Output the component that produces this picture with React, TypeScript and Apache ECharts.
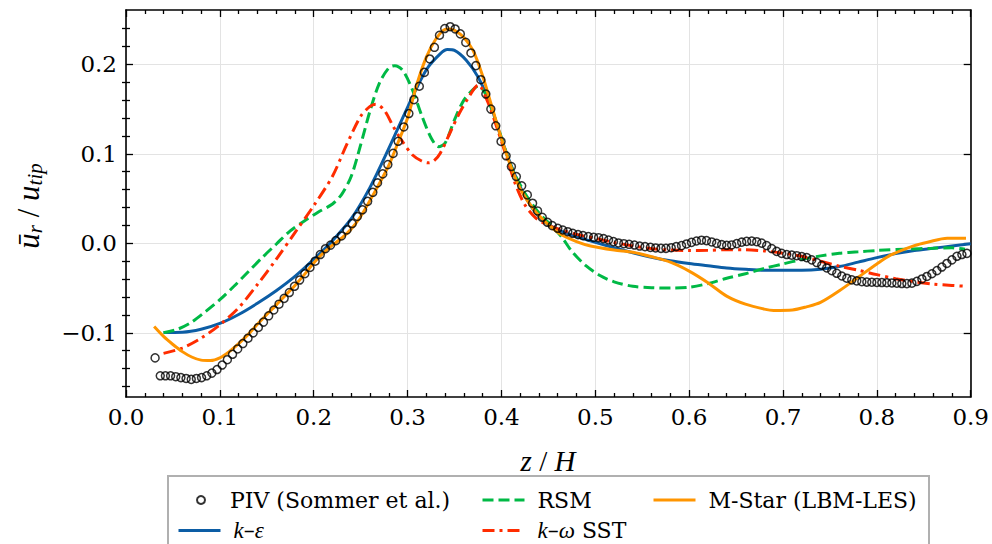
import React, { useEffect, useRef } from "react";
import * as echarts from "echarts";

// ---------- data ----------
const pivZ = [0.031,0.0365,0.042,0.0475,0.053,0.0585,0.064,0.0695,0.075,0.0805,0.086,0.0915,0.097,0.1025,0.108,0.1135,0.119,0.1245,0.13,0.1355,0.141,0.1465,0.152,0.1575,0.163,0.1685,0.174,0.1795,0.185,0.1905,0.196,0.2015,0.207,0.2125,0.218,0.2236,0.2296,0.2354,0.241,0.2464,0.252,0.2575,0.263,0.268,0.2736,0.279,0.2846,0.29,0.296,0.3014,0.3068,0.3125,0.3179,0.3236,0.3286,0.334,0.3396,0.3454,0.3507,0.3562,0.362,0.3675,0.3728,0.3781,0.3834,0.3887,0.394,0.3996,0.405,0.4106,0.4159,0.4216,0.4276,0.4332,0.4385,0.4435,0.4491,0.4541,0.4601,0.4654,0.4707,0.476,0.4816,0.4869,0.4926,0.4982,0.5035,0.5088,0.5141,0.5194,0.5247,0.5304,0.536,0.5417,0.5473,0.553,0.5587,0.5643,0.57,0.5753,0.5809,0.5862,0.5919,0.5972,0.6025,0.6078,0.6132,0.6185,0.624,0.6293,0.6347,0.64,0.6453,0.6507,0.656,0.6613,0.6667,0.672,0.6773,0.6826,0.688,0.6933,0.6986,0.704,0.7093,0.7146,0.72,0.7253,0.7306,0.736,0.7413,0.7466,0.752,0.7573,0.7626,0.768,0.7733,0.7786,0.784,0.7893,0.7946,0.8,0.8053,0.8106,0.816,0.8213,0.8266,0.832,0.8373,0.8426,0.848,0.8533,0.8586,0.864,0.8693,0.8746,0.88,0.8853,0.8906,0.896];
const pivU = [-0.128,-0.148,-0.148,-0.148,-0.149,-0.15,-0.151,-0.152,-0.151,-0.15,-0.148,-0.145,-0.141,-0.136,-0.13,-0.124,-0.118,-0.112,-0.106,-0.1,-0.094,-0.088,-0.081,-0.0745,-0.068,-0.0615,-0.055,-0.048,-0.041,-0.034,-0.027,-0.02,-0.0125,-0.006,-0.002,0.003,0.0082,0.015,0.0221,0.03,0.0375,0.0469,0.057,0.0675,0.0776,0.088,0.1005,0.114,0.13,0.145,0.1605,0.1755,0.191,0.206,0.219,0.2325,0.24,0.242,0.2395,0.234,0.2245,0.2127,0.1985,0.1828,0.1668,0.15,0.1313,0.1138,0.0978,0.0858,0.0746,0.0642,0.0541,0.0448,0.0362,0.0291,0.0235,0.0198,0.0168,0.0149,0.013,0.0112,0.0097,0.0086,0.0075,0.0067,0.0063,0.0052,0.0037,0.0019,0.0004,-0.0004,-0.0011,-0.0019,-0.003,-0.0037,-0.0045,-0.0052,-0.0056,-0.0056,-0.0049,-0.0037,-0.0026,-0.0007,0.0011,0.0026,0.0035,0.003,0.0015,0.0,-0.0015,-0.0022,-0.0018,-0.0003,0.0013,0.0022,0.0025,0.0018,0.0002,-0.0025,-0.0058,-0.009,-0.0112,-0.0125,-0.0132,-0.0138,-0.0148,-0.016,-0.0185,-0.0215,-0.0245,-0.0275,-0.0305,-0.0335,-0.0365,-0.039,-0.0408,-0.042,-0.0428,-0.0433,-0.0435,-0.0437,-0.0438,-0.044,-0.0443,-0.0446,-0.0449,-0.045,-0.0445,-0.0425,-0.0398,-0.037,-0.034,-0.0305,-0.0265,-0.0225,-0.0185,-0.0145,-0.0125,-0.0112];

const keZ = [0.04,0.06,0.08,0.1,0.12,0.14,0.16,0.18,0.2,0.22,0.24,0.26,0.28,0.3,0.32,0.335,0.3425,0.35,0.3625,0.375,0.3875,0.4,0.41,0.42,0.435,0.45,0.465,0.48,0.5,0.52,0.54,0.56,0.58,0.6,0.62,0.64,0.66,0.68,0.7,0.72,0.74,0.76,0.78,0.8,0.82,0.84,0.86,0.88,0.9];
const keU = [-0.0996,-0.0993,-0.096,-0.0895,-0.0795,-0.067,-0.053,-0.037,-0.018,0.003,0.0275,0.0625,0.106,0.152,0.194,0.212,0.2165,0.2155,0.2045,0.186,0.157,0.117,0.088,0.063,0.036,0.021,0.013,0.0075,0.001,-0.005,-0.0105,-0.0155,-0.0195,-0.0225,-0.025,-0.0275,-0.029,-0.03,-0.03,-0.03,-0.029,-0.026,-0.021,-0.016,-0.0115,-0.008,-0.0055,-0.003,-0.0005];

const rsmZ = [0.04,0.055,0.07,0.085,0.1,0.115,0.13,0.145,0.16,0.175,0.19,0.205,0.22,0.23,0.24,0.25,0.26,0.27,0.28,0.2865,0.295,0.305,0.315,0.325,0.333,0.34,0.35,0.36,0.37,0.3755,0.383,0.395,0.41,0.425,0.44,0.455,0.465,0.475,0.49,0.505,0.52,0.54,0.56,0.58,0.6,0.62,0.64,0.66,0.68,0.7,0.72,0.74,0.76,0.78,0.8,0.83,0.86,0.88,0.894];
const rsmU = [-0.1,-0.096,-0.088,-0.076,-0.063,-0.048,-0.032,-0.016,-0.001,0.014,0.025,0.035,0.044,0.055,0.075,0.11,0.148,0.179,0.196,0.1985,0.193,0.172,0.143,0.118,0.108,0.112,0.138,0.16,0.172,0.176,0.167,0.134,0.087,0.056,0.034,0.018,0.006,-0.009,-0.025,-0.036,-0.043,-0.048,-0.0495,-0.05,-0.049,-0.045,-0.039,-0.034,-0.028,-0.023,-0.018,-0.014,-0.011,-0.0095,-0.008,-0.0065,-0.0055,-0.005,-0.0065];

const sstZ = [0.04,0.06,0.08,0.1,0.12,0.14,0.16,0.18,0.2,0.22,0.235,0.25,0.26,0.266,0.275,0.285,0.295,0.305,0.315,0.322,0.328,0.335,0.345,0.355,0.365,0.3755,0.385,0.395,0.405,0.415,0.425,0.437,0.45,0.465,0.48,0.5,0.52,0.54,0.56,0.58,0.6,0.62,0.64,0.66,0.68,0.7,0.72,0.74,0.76,0.78,0.8,0.82,0.84,0.86,0.88,0.895];
const sstU = [-0.123,-0.117,-0.106,-0.091,-0.072,-0.046,-0.018,0.012,0.042,0.075,0.11,0.142,0.153,0.1555,0.149,0.13,0.113,0.099,0.092,0.09,0.092,0.101,0.123,0.145,0.163,0.177,0.159,0.13,0.098,0.066,0.043,0.028,0.02,0.0145,0.01,0.0055,0.001,-0.003,-0.006,-0.0075,-0.008,-0.0078,-0.0072,-0.0072,-0.0085,-0.011,-0.0145,-0.02,-0.0255,-0.03,-0.035,-0.0395,-0.043,-0.0455,-0.047,-0.048];

const mstarZ = [0.03,0.04,0.05,0.06,0.07,0.08,0.09,0.1,0.11,0.12,0.13,0.14,0.15,0.16,0.17,0.18,0.19,0.2,0.21,0.22,0.23,0.24,0.25,0.26,0.27,0.28,0.29,0.3,0.31,0.32,0.33,0.34,0.345,0.35,0.36,0.37,0.38,0.39,0.4,0.41,0.42,0.435,0.45,0.465,0.48,0.495,0.52,0.54,0.56,0.58,0.6,0.62,0.64,0.66,0.68,0.69,0.71,0.725,0.74,0.76,0.78,0.8,0.815,0.84,0.855,0.875,0.895];
const mstarU = [-0.093,-0.104,-0.113,-0.121,-0.127,-0.1305,-0.131,-0.128,-0.121,-0.112,-0.102,-0.0905,-0.0795,-0.069,-0.058,-0.047,-0.035,-0.022,-0.011,-0.002,0.006,0.016,0.03,0.048,0.067,0.087,0.113,0.14,0.178,0.208,0.228,0.239,0.2395,0.238,0.23,0.215,0.187,0.152,0.117,0.086,0.061,0.037,0.021,0.009,0.002,-0.003,-0.0075,-0.01,-0.015,-0.021,-0.031,-0.044,-0.059,-0.068,-0.0735,-0.075,-0.0745,-0.071,-0.066,-0.053,-0.038,-0.023,-0.013,-0.0025,0.0015,0.0056,0.0056];

const seriesNames = ["PIV (Sommer et al.)", "k-\u03b5", "RSM", "k-\u03c9 SST", "M-Star (LBM-LES)"];
const seriesColors = ["#000000", "#0C5DA5", "#00B945", "#FF2C00", "#FF9500"];
const yMajorTicks = [-0.1, 0, 0.1, 0.2];
const yMinorTicks = [-0.16, -0.14, -0.12, -0.08, -0.06, -0.04, -0.02, 0.02, 0.04, 0.06, 0.08, 0.12, 0.14, 0.16, 0.18, 0.22, 0.24];
const xMin = 0, xMax = 0.9, xStep = 0.1;
const yMin = -0.1717, yMax = 0.2607;

const SERIF = "DejaVu Serif";
const MATH = "Liberation Serif";

const zip = (a: number[], b: number[]) => a.map((v, i) => [v, b[i]]);
const fmtY = (v: number) => (v < -1e-9 ? "\u2212" + Math.abs(v).toFixed(1) : Math.abs(v).toFixed(1));

export default function App() {
  const ref = useRef<HTMLDivElement>(null);
  useEffect(() => {
    if (!ref.current) return;
    const chart = echarts.init(ref.current, null, { renderer: "svg" });
    const tickLine = { color: "#000", width: 1.3 };
    const frame = { show: true, onZero: false, lineStyle: { color: "#000", width: 1.6 } };
    const gridLine = { show: true, lineStyle: { color: "#e3e3e3", width: 1 } };
    const LH = 20;
    const FS = 22;
    const legendRich = {
      tp: { fontFamily: SERIF, fontSize: FS, color: "#000", lineHeight: LH, padding: [0, 0, 0, 8] },
      tp0: { fontFamily: SERIF, fontSize: FS, color: "#000", lineHeight: LH, padding: [0, 0, 0, 20] },
      ip: { fontFamily: MATH, fontStyle: "italic", fontSize: 23, color: "#000", lineHeight: LH, padding: [0, 0, 0, 8] },
      i: { fontFamily: MATH, fontStyle: "italic", fontSize: 23, color: "#000", lineHeight: LH },
      t: { fontFamily: SERIF, fontSize: FS, color: "#000", lineHeight: LH },
    };
    const mkLegend = (name: string, left: number, top: number, fmt: () => string, extra: any = {}) => ({
      data: [name],
      left,
      top,
      padding: 0,
      itemWidth: 42,
      itemHeight: 14,
      itemGap: 0,
      selectedMode: false,
      formatter: fmt,
      itemStyle: { opacity: 0 },
      lineStyle: { width: 3 },
      textStyle: { fontFamily: SERIF, fontSize: FS, color: "#000", lineHeight: LH, rich: legendRich },
      ...extra,
    });
    const option: any = {
      animation: false,
      backgroundColor: "#fff",
      grid: { left: 126, right: 21, top: 10, bottom: 147, containLabel: false },
      xAxis: [
        {
          type: "value", min: xMin, max: xMax, interval: xStep, position: "bottom",
          axisLine: frame,
          axisTick: { show: true, inside: true, length: 7, lineStyle: tickLine },
          minorTick: { show: true, splitNumber: 5, length: 4, lineStyle: tickLine },
          axisLabel: { show: true, margin: 8, fontFamily: SERIF, fontSize: 23, color: "#000", formatter: (v: number) => v.toFixed(1) },
          splitLine: gridLine,
        },
        {
          type: "value", min: xMin, max: xMax, interval: xStep, position: "top",
          axisLine: frame,
          axisTick: { show: true, inside: true, length: 7, lineStyle: tickLine },
          minorTick: { show: true, splitNumber: 5, length: 4, lineStyle: tickLine },
          axisLabel: { show: false },
          splitLine: { show: false },
        },
      ],
      yAxis: [
        {
          type: "value", min: yMin, max: yMax, position: "left",
          axisLine: frame,
          axisTick: { show: true, inside: true, length: 7, lineStyle: tickLine, customValues: yMajorTicks },
          axisLabel: { show: true, margin: 9, fontFamily: SERIF, fontSize: 23, color: "#000", customValues: yMajorTicks, formatter: fmtY },
          splitLine: gridLine,
        },
        {
          type: "value", min: yMin, max: yMax, position: "right",
          axisLine: frame,
          axisTick: { show: true, inside: true, length: 7, lineStyle: tickLine, customValues: yMajorTicks },
          axisLabel: { show: false },
          splitLine: { show: false },
        },
        {
          type: "value", min: yMin, max: yMax, position: "left",
          axisLine: { show: false },
          axisTick: { show: true, inside: true, length: 4, lineStyle: tickLine, customValues: yMinorTicks },
          axisLabel: { show: false },
          splitLine: { show: false },
        },
        {
          type: "value", min: yMin, max: yMax, position: "right",
          axisLine: { show: false },
          axisTick: { show: true, inside: true, length: 4, lineStyle: tickLine, customValues: yMinorTicks },
          axisLabel: { show: false },
          splitLine: { show: false },
        },
      ],
      legend: [
        mkLegend(seriesNames[0], 196, 489, () => "{tp0|PIV (Sommer et al.)}", { itemWidth: 8, itemHeight: 8, itemStyle: {}, lineStyle: {} }),
        mkLegend(seriesNames[1], 177, 519, () => "{ip|k}{t|\u2013}{i|\u03b5}"),
        mkLegend(seriesNames[2], 481, 489, () => "{tp|RSM}"),
        mkLegend(seriesNames[3], 481, 519, () => "{ip|k}{t|\u2013}{i|\u03c9}{t| SST}"),
        mkLegend(seriesNames[4], 652, 489, () => "{tp|M-Star (LBM-LES)}"),
      ],
      graphic: [
        {
          type: "rect", z: 0, shape: { x: 168, y: 476, width: 761, height: 90 },
          style: { fill: "#fff", stroke: "#b0b0b0", lineWidth: 2 },
        },
        {
          type: "text", x: 548, y: 461,
          style: {
            text: "{i|z}{n| / }{i|H}", align: "center", verticalAlign: "middle",
            rich: {
              i: { fontFamily: MATH, fontStyle: "italic", fontSize: 29, fill: "#000" },
              n: { fontFamily: MATH, fontSize: 29, fill: "#000" },
            },
          },
        },
        {
          type: "text", x: 28, y: 206, rotation: Math.PI / 2,
          style: {
            text: "{i|\u016b}{s|r}{n| / }{i|u}{s|tip}", align: "center", verticalAlign: "middle",
            rich: {
              i: { fontFamily: MATH, fontStyle: "italic", fontSize: 31, fill: "#000", lineHeight: 34 },
              n: { fontFamily: MATH, fontSize: 31, fill: "#000", lineHeight: 34 },
              s: { fontFamily: MATH, fontStyle: "italic", fontSize: 21, fill: "#000", lineHeight: 10, verticalAlign: "bottom" },
            },
          },
        },
      ],
      series: [
        {
          name: seriesNames[0], type: "scatter", data: zip(pivZ, pivU), symbol: "circle", symbolSize: 8, z: 6,
          itemStyle: { color: "rgba(255,255,255,0)", borderColor: "#000", borderWidth: 1.5 },
        },
        {
          name: seriesNames[1], type: "line", data: zip(keZ, keU), showSymbol: false, symbol: "none", smooth: 0.3, z: 2,
          lineStyle: { color: seriesColors[1], width: 3 }, itemStyle: { color: seriesColors[1] },
        },
        {
          name: seriesNames[2], type: "line", data: zip(rsmZ, rsmU), showSymbol: false, symbol: "none", smooth: 0.3, z: 3,
          lineStyle: { color: seriesColors[2], width: 3, type: [11, 5] }, itemStyle: { color: seriesColors[2] },
        },
        {
          name: seriesNames[3], type: "line", data: zip(sstZ, sstU), showSymbol: false, symbol: "none", smooth: 0.3, z: 4,
          lineStyle: { color: seriesColors[3], width: 3, type: [12, 5, 3, 5] }, itemStyle: { color: seriesColors[3] },
        },
        {
          name: seriesNames[4], type: "line", data: zip(mstarZ, mstarU), showSymbol: false, symbol: "none", smooth: 0.3, z: 5,
          lineStyle: { color: seriesColors[4], width: 3 }, itemStyle: { color: seriesColors[4] },
        },
      ],
    };
    chart.setOption(option);
    return () => chart.dispose();
  }, []);
  return <div ref={ref} style={{ width: 992, height: 544, position: "absolute", left: 0, top: 0 }} />;
}
